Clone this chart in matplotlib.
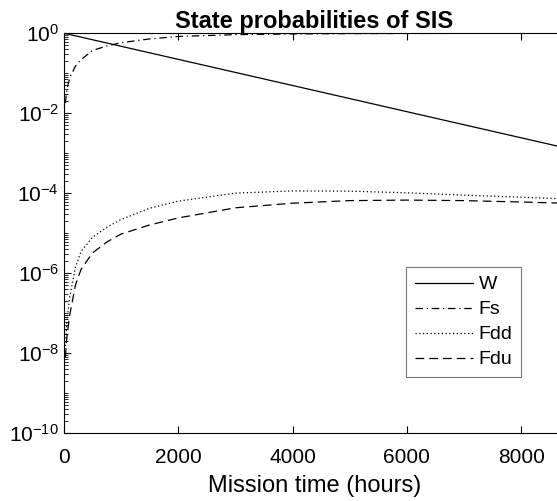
import matplotlib
matplotlib.use("Agg")
import matplotlib.pyplot as plt
import matplotlib.ticker as mticker

plt.rcParams['font.family'] = ['Liberation Sans', 'DejaVu Sans']

# temps de mission (heures) et probabilités
hours = [24, 50, 100, 200, 300, 500, 750, 1000, 1500, 2000, 3000,
         4000, 5000, 6000, 7000, 8000, 8760]

p_w = [0.982, 0.963, 0.927, 0.860, 0.798, 0.686, 0.569, 0.471, 0.323,
       0.222, 0.1045, 0.0492, 0.0232, 0.0109, 0.00514, 0.00242, 0.00137]

p_fs = [0.018, 0.038, 0.077, 0.15, 0.22, 0.37, 0.48, 0.58, 0.72,
        0.83, 0.92, 0.96, 0.978, 0.987, 0.992, 0.995, 0.997]

p_fdd = [1.5e-8, 6.3e-8, 2.5e-7, 1.4e-6, 3.5e-6, 7.9e-6, 1.4e-5, 2.2e-5,
         4.2e-5, 6.3e-5, 1.0e-4, 1.135e-4, 1.12e-4, 1.02e-4, 8.9e-5,
         7.9e-5, 7.2e-5]

p_fdu = [8e-9, 2.5e-8, 8.9e-8, 5e-7, 1.26e-6, 3.2e-6, 6e-6, 9.5e-6,
         1.6e-5, 2.4e-5, 4.3e-5, 5.6e-5, 6.5e-5, 6.7e-5, 6.5e-5,
         6.0e-5, 5.6e-5]

labels = ["W", "Fs", "Fdd", "Fdu"]
t_max = 8760

fig = plt.figure(figsize=(5.57, 5.01), dpi=100)
ax = fig.add_axes([0.1149, 0.1357, 0.8987, 0.798])

lw = 0.9
ax.plot([0] + hours, [1.0] + p_w, color='black', lw=lw, linestyle='-', label=labels[0])
ax.plot(hours, p_fs, color='black', lw=lw, linestyle=(0, (6, 3, 1, 3)), label=labels[1])
ax.plot(hours, p_fdd, color='black', lw=lw, linestyle=(0, (1, 2)), label=labels[2])
ax.plot(hours, p_fdu, color='black', lw=lw, linestyle=(0, (7, 4)), label=labels[3])

ax.set_yscale('log')
ax.set_ylim(1e-10, 1)
ax.set_xlim(0, t_max)

ax.yaxis.set_major_locator(mticker.FixedLocator([10.0 ** k for k in range(-10, 1, 2)]))
ax.yaxis.set_minor_locator(mticker.LogLocator(base=10, subs=range(1, 10), numticks=30))
ax.yaxis.set_minor_formatter(mticker.NullFormatter())
ax.xaxis.set_major_locator(mticker.FixedLocator([0, 2000, 4000, 6000, 8000]))

ax.tick_params(which='both', direction='in', top=True, right=False, labelsize=15)
ax.tick_params(which='major', length=5, width=0.8)
ax.tick_params(which='minor', length=3, width=0.6)
ax.tick_params(axis='x', pad=10.5)

for s in ax.spines.values():
    s.set_linewidth(0.8)

ax.set_title("State probabilities of SIS", fontsize=17, fontweight='bold', pad=3)
ax.set_xlabel("Mission time (hours)", fontsize=17, labelpad=6)

leg = ax.legend(loc='upper left', bbox_to_anchor=(0.683, 0.415), fontsize=14,
                frameon=True, fancybox=False, edgecolor='#555555',
                handlelength=3.0, handletextpad=0.3, borderpad=0.45,
                labelspacing=0.38, borderaxespad=0)
leg.get_frame().set_linewidth(0.8)

fig.savefig("out.png", dpi=100)
